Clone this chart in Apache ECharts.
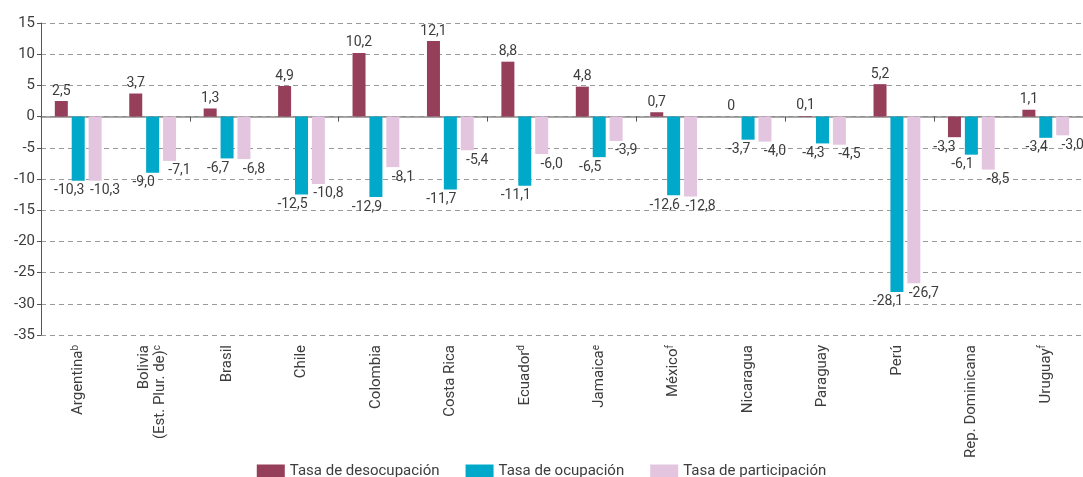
<!DOCTYPE html>
<html>
<head>
<meta charset="utf-8">
<script src="https://cdn.jsdelivr.net/npm/echarts@6/dist/echarts.min.js"></script>
<style>
  html, body { margin: 0; padding: 0; background: #fff; }
  #chart { width: 1083px; height: 477px; }
</style>
</head>
<body>
<div id="chart"></div>
<script>
// categories (rich-text tags for superscript notes)
const paises = [
  'Argentina{sup|b}', 'Bolivia\n(Est. Plur. de){sup|c}', 'Brasil', 'Chile', 'Colombia',
  'Costa Rica', 'Ecuador{sup|d}', 'Jamaica{sup|e}', 'México{sup|f}', 'Nicaragua',
  'Paraguay', 'Perú', 'Rep. Dominicana', 'Uruguay{sup|f}'
]
const desocupacion = [2.5, 3.7, 1.3, 4.9, 10.2, 12.1, 8.8, 4.8, 0.7, 0, 0.1, 5.2, -3.3, 1.1]
const ocupacion = [-10.3, -9.0, -6.7, -12.5, -12.9, -11.7, -11.1, -6.5, -12.6, -3.7, -4.3, -28.1, -6.1, -3.4]
const participacion = [-10.3, -7.1, -6.8, -10.8, -8.1, -5.4, -6.0, -3.9, -12.8, -4.0, -4.5, -26.7, -8.5, -3.0]
const nombres = ['Tasa de desocupación', 'Tasa de ocupación', 'Tasa de participación']
const colores = ['#963f5a', '#00a8c9', '#e3c5e0']

const FONT = "'Roboto', sans-serif"
const TXT = '#3d3d3d'

const fmt = (v) => v === 0 ? '0' : v.toFixed(1).replace('.', ',')

// positive labels above, negative below (shifted sideways so they don't collide)
const toItems = (arr, offX) => arr.map((v) => ({
  value: v,
  label: v < 0
    ? { position: 'bottom', offset: [offX, 0] }
    : { position: 'top' }
}))

const chart = echarts.init(document.getElementById('chart'))

const mkSeries = (i, data, offX) => ({
  name: nombres[i],
  type: 'bar',
  xAxisIndex: 0,
  data: toItems(data, offX),
  barWidth: 13,
  barGap: '30%',
  itemStyle: { color: colores[i] },
  label: {
    show: true,
    distance: 3,
    color: TXT,
    fontFamily: FONT,
    fontSize: 14,
    formatter: (p) => fmt(p.value)
  }
})

const option = {
  animation: false,
  grid: {
    left: 41,
    right: 0,
    top: 23,
    bottom: 142
  },
  legend: {
    top: 459,
    left: 'center',
    itemWidth: 28,
    itemHeight: 14,
    itemGap: 26,
    icon: 'rect',
    textStyle: { fontFamily: FONT, fontSize: 15, color: TXT },
    data: nombres
  },
  xAxis: [
    {
      type: 'category',
      data: paises,
      axisLine: { onZero: true, lineStyle: { color: '#8a8a8a', width: 1.5 } },
      axisTick: { show: true, length: 5, lineStyle: { color: '#555' } },
      axisLabel: { show: false }
    },
    {
      type: 'category',
      data: paises,
      position: 'bottom',
      axisLine: { show: false, onZero: false },
      axisTick: { show: false },
      axisLabel: {
        rotate: 90,
        margin: 10,
        interval: 0,
        color: TXT,
        fontFamily: FONT,
        fontSize: 15,
        lineHeight: 16,
        rich: {
          sup: { fontSize: 10, verticalAlign: 'top', lineHeight: 16, fontFamily: FONT, color: TXT }
        }
      }
    }
  ],
  yAxis: {
    type: 'value',
    min: -35,
    max: 15,
    interval: 5,
    axisLine: { show: true, lineStyle: { color: '#555' } },
    axisTick: { show: true, length: 4, lineStyle: { color: '#555' } },
    axisLabel: { color: TXT, fontFamily: FONT, fontSize: 15, margin: 6 },
    splitLine: {
      show: true,
      lineStyle: { color: '#9a9a9a', type: [5, 4], width: 1 }
    }
  },
  series: [
    mkSeries(0, desocupacion, -10),
    mkSeries(1, ocupacion, -9),
    mkSeries(2, participacion, 10)
  ]
}
chart.setOption(option)
</script>
</body>
</html>
